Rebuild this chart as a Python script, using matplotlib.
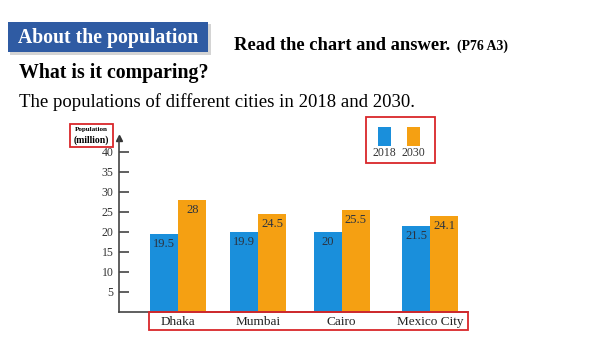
import numpy as np
import matplotlib
matplotlib.use("Agg")
import matplotlib.pyplot as plt
from matplotlib.patches import Rectangle

cities = ["Dhaka", "Mumbai", "Cairo", "Mexico City"]
pop_2018 = [19.5, 19.9, 20, 21.5]
pop_2030 = [28, 24.5, 25.5, 24.1]
years = ["2018", "2030"]
yticks = [5, 10, 15, 20, 25, 30, 35, 40]

BLUE = "#1a8fdb"
ORANGE = "#f5a012"
RED = "#d9262a"
SERIF = "Liberation Serif"

W, H = 600, 338
fig = plt.figure(figsize=(W / 100, H / 100), dpi=100)
fig.patch.set_facecolor("white")


def fx(px):
    return px / W


def fy(py):
    return 1 - py / H


def box(x0, y0, x1, y1, **kw):
    r = Rectangle((fx(x0), fy(y1)), fx(x1) - fx(x0), fy(y0) - fy(y1),
                  transform=fig.transFigure, **kw)
    fig.add_artist(r)
    return r


# header
box(10, 24, 211, 55, facecolor="#d4d4d4", edgecolor="none", zorder=1)
box(8, 22, 208, 52, facecolor="#2f5ba3", edgecolor="none", zorder=2)
fig.text(fx(108), fy(37.5), "About the population", color="white", family=SERIF,
         weight="bold", fontsize=14.2, ha="center", va="center", zorder=3)
fig.text(fx(234), fy(45), "Read the chart and answer.", family=SERIF,
         weight="bold", fontsize=13.3, ha="left", va="center")
fig.text(fx(457), fy(46), "(P76 A3)", family=SERIF,
         weight="bold", fontsize=10, ha="left", va="center")
fig.text(fx(19), fy(73), "What is it comparing?", family=SERIF,
         weight="bold", fontsize=14.3, ha="left", va="center")
fig.text(fx(19), fy(102), "The populations of different cities in 2018 and 2030.",
         family=SERIF, fontsize=13.5, ha="left", va="center")

# chart axes: y axis at x=119px, baseline at y=312px, 4 px per million
ax_left, ax_right, ax_bottom, ax_top = 119, 468, 312, 138
ax = fig.add_axes([fx(ax_left), fy(ax_bottom), fx(ax_right) - fx(ax_left),
                   fy(ax_top) - fy(ax_bottom)])
ax.patch.set_alpha(0)

# group centres are not evenly spaced in the original layout
step = 83.9
x = (np.array([178.3, 258.3, 341.7, 430.0]) - 178.3) / step
w = 28 / step
ax.set_xlim((ax_left - 178.3) / step, (ax_right - 178.3) / step)
ax.set_ylim(0, (ax_bottom - ax_top) / 4)

b1 = ax.bar(x - w / 2, pop_2018, w, color=BLUE)
b2 = ax.bar(x + w / 2, pop_2030, w, color=ORANGE)
for bars, vals in ((b1, pop_2018), (b2, pop_2030)):
    for r, v in zip(bars, vals):
        ax.text(r.get_x() + r.get_width() / 2, v - 2.5, f"{v:g}", ha="center",
                va="center", family=SERIF, fontsize=9, color="#2b3340")

for s in ("top", "right"):
    ax.spines[s].set_visible(False)
for s in ("left", "bottom"):
    ax.spines[s].set_color("#444444")
    ax.spines[s].set_linewidth(1.2)
ax.plot(0, 1, marker="^", color="#333333", markersize=5,
        transform=ax.transAxes, clip_on=False)

ax.set_yticks(yticks)
ax.tick_params(axis="y", direction="in", length=7, width=1.2, color="#444444",
               pad=4, labelsize=8.5, labelcolor="#333333")
for t in ax.get_yticklabels():
    t.set_family(SERIF)
ax.set_xticks(x)
ax.set_xticklabels(cities, family=SERIF, fontsize=9.5, color="#222222")
ax.tick_params(axis="x", length=0, pad=3)

# y label in red box
box(70, 124, 113, 147, facecolor="none", edgecolor=RED, linewidth=1.3)
fig.text(fx(91.5), fy(129.5), "Population", family=SERIF, weight="bold",
         fontsize=5, ha="center", va="center")
fig.text(fx(91.5), fy(140), "(million)", family=SERIF, weight="bold",
         fontsize=7, ha="center", va="center")

# red box around the city names
box(149, 312, 468, 330, facecolor="none", edgecolor=RED, linewidth=1.3)

# legend
box(366, 117, 435, 163, facecolor="none", edgecolor=RED, linewidth=1.3)
for cx, col, yr in ((384, BLUE, years[0]), (413.5, ORANGE, years[1])):
    box(cx - 6.5, 127, cx + 6.5, 146, facecolor=col, edgecolor="none")
    fig.text(fx(cx), fy(153), yr, family=SERIF, fontsize=8.5,
             ha="center", va="center", color="#333333")

fig.savefig("out.png", dpi=100)
